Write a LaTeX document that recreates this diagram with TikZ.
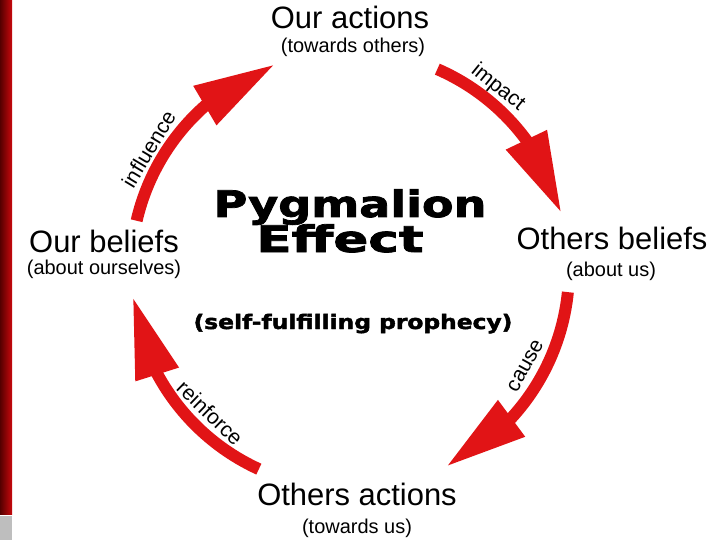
\documentclass[tikz,border=0pt]{standalone}
\usepackage{fontspec}
\setmainfont{Liberation Sans}
\newfontfamily\heavyfont{DejaVu Sans}[BoldFeatures={FakeBold=2}]
\usepackage{graphicx}
\usetikzlibrary{arrows.meta,bending}
\definecolor{loopred}{RGB}{225,20,22}
\definecolor{stripdark}{RGB}{85,0,0}
\definecolor{stripred}{RGB}{200,8,12}
\definecolor{tabgray}{RGB}{190,190,190}
\tikzset{
  stage/.style={font=\fontsize{22}{26}\selectfont, anchor=base, inner sep=0pt},
  stagesub/.style={font=\fontsize{14.2}{17}\selectfont, anchor=base, inner sep=0pt},
  heavy/.style={font=\heavyfont\bfseries\fontsize{#1}{#1}\selectfont, anchor=base, inner sep=0pt},
  loop/.style={draw=loopred, line width=8.5pt, -{Triangle[length=58pt, width=30pt, flex]}},
  verb/.style={font=\fontsize{15}{18}\selectfont, inner sep=0pt},
}

\begin{document}
\begin{tikzpicture}[x=0.025cm, y=0.025cm]
\fill[white] (0,0) rectangle (720,540);
\useasboundingbox (0,0) rectangle (720,540);

% slide edge
\shade[left color=stripdark, right color=stripred] (0,26) rectangle (12,540);
\fill[tabgray] (0,0) rectangle (12,24);

% the four stages
\node[stage] (actions) at (350,511) {Our actions};
\node[stagesub] (actions-sub) at (353,487) {(towards others)};
\node[stage] (obeliefs) at (612,290) {Others beliefs};
\node[stagesub] (obeliefs-sub) at (611,264) {(about us)};
\node[stage] (oactions) at (357,35) {Others actions};
\node[stagesub] (oactions-sub) at (357,7) {(towards us)};
\node[stage] (beliefs) at (104,288) {Our beliefs};
\node[stagesub] (beliefs-sub) at (104,266) {(about ourselves)};

% title in the middle
\node[heavy=26pt] (pyg) at (350,323) {\scalebox{1.26}[1]{Pygmalion}};
\node[heavy=26pt] (effect) at (340,288) {\scalebox{1.41}[1]{Effect}};
\node[heavy=14.2pt] (prophecy) at (353,211) {\scalebox{1.17}[1]{(self-fulfilling prophecy)}};

% the loop, clockwise round c
\coordinate (c) at (350,270);
\path (c) ++(167:219) coordinate (influence-a);
\path (c) ++(66.5:219) coordinate (impact-a);
\path (c) ++(-5.8:219) coordinate (cause-a);
\path (c) ++(-114.6:219) coordinate (reinforce-a);
\draw[loop] (influence-a) arc[start angle=167, end angle=110, radius=219];
\draw[loop] (impact-a) arc[start angle=66.5, end angle=15, radius=219];
\draw[loop] (cause-a) arc[start angle=-5.8, end angle=-64, radius=219];
\draw[loop] (reinforce-a) arc[start angle=-114.6, end angle=-173, radius=219];

\node[verb, rotate=59] (influence) at ([shift={(149:235)}]c) {influence};
\node[verb, rotate=-39] (impact) at ([shift={(51:235)}]c) {impact};
\node[verb, rotate=61] (cause) at ([shift={(-28.6:200)}]c) {cause};
\node[verb, rotate=-44] (reinforce) at ([shift={(225.6:200)}]c) {reinforce};
\end{tikzpicture}
\end{document}
